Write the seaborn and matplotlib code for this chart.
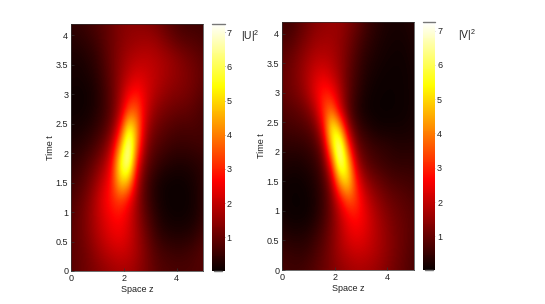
import numpy as np
import matplotlib
matplotlib.use("Agg")
import matplotlib.pyplot as plt
import seaborn as sns

# |U|^2, one row per time step (t = 0 ... 4.2), z = 0 ... 5
u_vals = [
    [.85, 1.0, 1.15, 1.3, 1.45, 1.6, 1.7, 1.7, 1.5, 1.25, 1.0, .8, .75, .72, .72, .75, .8],
    [.9, 1.0, 1.2, 1.5, 1.8, 2.0, 2.1, 2.0, 1.7, 1.3, .9, .7, .6, .55, .6, .7, .85],
    [.9, 1.05, 1.35, 1.75, 2.1, 2.4, 2.5, 2.2, 1.7, 1.15, .7, .4, .3, .27, .3, .4, .65],
    [.85, 1.05, 1.4, 1.85, 2.3, 2.65, 2.75, 2.3, 1.6, .95, .5, .2, .1, .07, .1, .2, .45],
    [.75, .95, 1.3, 1.85, 2.5, 3.0, 3.3, 2.7, 1.6, .8, .35, .12, .05, .04, .06, .15, .4],
    [.6, .75, 1.05, 1.55, 2.2, 3.0, 5.0, 4.6, 1.9, .8, .35, .12, .06, .05, .08, .2, .4],
    [.45, .55, .8, 1.15, 1.7, 2.7, 5.8, 6.9, 2.6, 1.1, .65, .4, .28, .22, .25, .3, .4],
    [.3, .35, .5, .75, 1.15, 2.0, 4.4, 7.25, 3.8, 1.5, .9, .7, .55, .5, .5, .55, .6],
    [.15, .18, .28, .45, .75, 1.3, 2.8, 6.0, 4.3, 1.9, 1.2, .95, .8, .7, .7, .7, .65],
    [.08, .08, .13, .28, .55, 1.0, 1.9, 3.6, 3.7, 2.3, 1.55, 1.25, 1.1, 1.0, .95, .85, .7],
    [.08, .07, .1, .25, .55, 1.0, 1.7, 2.6, 2.9, 2.4, 1.9, 1.6, 1.4, 1.3, 1.2, 1.05, .85],
    [.15, .12, .2, .35, .65, 1.05, 1.55, 2.0, 2.3, 2.2, 2.0, 1.8, 1.6, 1.45, 1.3, 1.15, .95],
    [.2, .2, .3, .45, .75, 1.1, 1.45, 1.75, 1.9, 1.95, 1.9, 1.75, 1.6, 1.4, 1.2, 1.05, .9],
    [.3, .35, .45, .6, .85, 1.1, 1.35, 1.5, 1.6, 1.65, 1.6, 1.4, 1.15, .95, .85, .8, .7],
    [.45, .5, .6, .75, .9, 1.1, 1.3, 1.4, 1.4, 1.35, 1.25, 1.05, .85, .7, .6, .6, .6],
]

# |V|^2, same grid
v_vals = [
    [.65, .6, .6, .7, .85, 1.05, 1.25, 1.45, 1.6, 1.7, 1.7, 1.6, 1.45, 1.25, 1.05, .9, .7],
    [.55, .5, .45, .5, .7, .95, 1.3, 1.7, 1.95, 2.1, 2.05, 1.9, 1.65, 1.4, 1.15, .95, .75],
    [.35, .25, .25, .3, .5, .8, 1.25, 1.8, 2.3, 2.5, 2.35, 2.0, 1.7, 1.4, 1.15, 1.0, .8],
    [.15, .06, .05, .08, .25, .6, 1.15, 1.9, 2.6, 2.85, 2.5, 2.0, 1.6, 1.3, 1.1, .95, .85],
    [.08, .04, .03, .06, .2, .55, 1.2, 2.5, 3.6, 3.3, 2.3, 1.7, 1.35, 1.1, .95, .85, .75],
    [.12, .06, .06, .12, .28, .65, 1.6, 4.5, 5.4, 2.9, 1.7, 1.25, 1.0, .8, .7, .65, .6],
    [.25, .2, .2, .28, .45, .9, 2.8, 6.9, 5.1, 1.9, 1.05, .75, .6, .5, .45, .45, .45],
    [.4, .4, .42, .5, .7, 1.4, 4.8, 7.25, 3.3, 1.2, .75, .55, .45, .38, .3, .3, .3],
    [.6, .65, .7, .8, 1.1, 2.4, 5.9, 4.8, 1.7, .7, .38, .2, .12, .12, .12, .14, .2],
    [.75, .85, .95, 1.2, 1.8, 3.2, 4.0, 2.3, .95, .38, .12, .05, .03, .03, .05, .07, .15],
    [.95, 1.1, 1.3, 1.7, 2.4, 3.0, 2.8, 1.9, 1.0, .5, .2, .08, .05, .04, .05, .08, .15],
    [1.0, 1.15, 1.4, 1.8, 2.2, 2.4, 2.1, 1.6, 1.0, .6, .3, .15, .08, .06, .06, .08, .15],
    [.9, 1.05, 1.3, 1.6, 1.85, 1.9, 1.8, 1.5, 1.1, .7, .4, .25, .15, .1, .08, .1, .2],
    [.75, .8, 1.05, 1.3, 1.55, 1.65, 1.65, 1.5, 1.2, .85, .55, .35, .22, .15, .12, .15, .25],
    [.65, .6, .85, 1.1, 1.35, 1.45, 1.55, 1.55, 1.3, 1.05, .7, .45, .3, .2, .18, .2, .3],
]

x_ticks = [0, 2, 4]
y_ticks = [0, 0.5, 1, 1.5, 2, 2.5, 3, 3.5, 4]
y_labels = ["0", "0.5", "1", "1.5", "2", "2.5", "3", "3.5", "4"]
cbar_ticks = [1, 2, 3, 4, 5, 6, 7]
z_max, t_max = 5.0, 4.2
v_min, v_max = 0.02, 7.25

W, H = 545, 304


def px_axes(fig, x0, x1, y0, y1):
    # pixel box from the reference, y counted from the top
    return fig.add_axes([x0 / W, 1 - y1 / H, (x1 - x0) / W, (y1 - y0) / H])


def draw_panel(fig, vals, box, cbox, name, name_x, name_y, tick_col):
    ax = px_axes(fig, *box)
    cax = px_axes(fig, *cbox)
    arr = np.array(vals)
    dz = z_max / (arr.shape[1] - 1)
    dt = t_max / (arr.shape[0] - 1)
    im = ax.imshow(arr, origin="lower", aspect="auto", cmap=cmap, vmin=v_min, vmax=v_max,
                   interpolation="bicubic",
                   extent=(-dz / 2, z_max + dz / 2, -dt / 2, t_max + dt / 2))
    ax.set_xlim(0, z_max)
    ax.set_ylim(0, t_max)
    ax.set_xticks(x_ticks)
    ax.set_yticks(y_ticks)
    ax.set_yticklabels(y_labels)
    ax.tick_params(direction="in", length=2, width=0.5, color="#333333", labelsize=6.5, pad=2)
    ax.set_xlabel("Space z", fontsize=6.5, labelpad=1.5)
    ax.set_ylabel("Time t", fontsize=6.5, labelpad=0.5)
    for s in ax.spines.values():
        s.set_linewidth(0.5)
        s.set_color("#333333")

    cb = fig.colorbar(im, cax=cax, ticks=cbar_ticks)
    cb.ax.tick_params(direction="in", length=2, width=0.5, color=tick_col, labelsize=6.5, pad=1.5)
    cb.outline.set_visible(False)
    # only the top and bottom edges of the bar show in the original
    cax.axhline(v_max, color="#777777", lw=1.0, clip_on=False)
    cax.axhline(v_min, xmin=0.15, xmax=0.8, color="#777777", lw=1.0, clip_on=False)
    fig.text(name_x / W, 1 - name_y / H, name, fontsize=7.5, ha="left", va="center")
    return ax


sns.set_theme(style="ticks")
plt.rcParams["font.family"] = ["Liberation Sans", "DejaVu Sans"]
plt.rcParams["mathtext.fontset"] = "custom"
plt.rcParams["mathtext.rm"] = "Liberation Sans"
plt.rcParams["text.color"] = "#222222"
plt.rcParams["axes.labelcolor"] = "#222222"
plt.rcParams["xtick.labelcolor"] = "#222222"
plt.rcParams["ytick.labelcolor"] = "#222222"
cmap = sns.color_palette("hot", as_cmap=True)

fig = plt.figure(figsize=(W / 100, H / 100), dpi=100, facecolor="white")
draw_panel(fig, u_vals, (71, 203, 23.5, 271), (212, 224.5, 23.5, 271), r"$\mathrm{|U|^2}$", 241, 36, "#555555")
draw_panel(fig, v_vals, (282, 413.5, 22, 270), (423, 435, 22, 270), r"$\mathrm{|V|^2}$", 457.5, 35, "#bbbbbb")

fig.savefig("out.png", dpi=100)
